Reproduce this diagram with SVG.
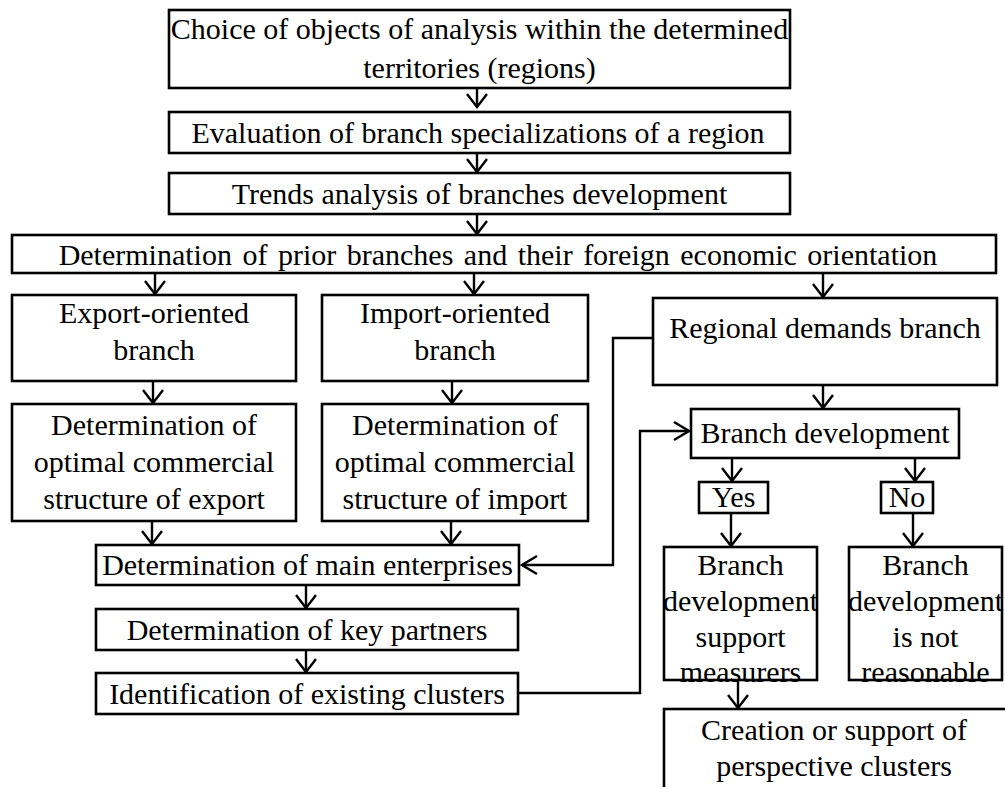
<svg xmlns="http://www.w3.org/2000/svg" width="1005" height="787" viewBox="0 0 1005 787">
  <defs>
    <style>
      .box { fill: #fff; stroke: #000; stroke-width: 2.6; }
      .lbl { font-family: "Liberation Serif", "Times New Roman", serif; font-size: 30px; fill: #000; text-anchor: middle; }
      .conn { fill: none; stroke: #000; stroke-width: 2.4; }
      .down { marker-end: url(#vee); }
      .side { marker-end: url(#chev); }
    </style>
    <!-- open head used on the vertical flow arrows -->
    <marker id="vee" viewBox="-15 -12 17 24" refX="0" refY="0" markerWidth="17" markerHeight="24" markerUnits="userSpaceOnUse" orient="auto">
      <path d="M-13,-10 L0,0 L-13,10" fill="none" stroke="#000" stroke-width="2.4"/>
    </marker>
    <!-- open chevron used on the side feedback lines -->
    <marker id="chev" viewBox="-17 -11 19 22" refX="0" refY="0" markerWidth="19" markerHeight="22" markerUnits="userSpaceOnUse" orient="auto">
      <path d="M-15,-9 L0,0 L-15,9" fill="none" stroke="#000" stroke-width="2.4"/>
    </marker>
  </defs>

  <rect width="1005" height="787" fill="#fff"/>

  <!-- connectors -->
  <g id="connectors">
    <path class="conn down" d="M477,88 V107"/>
    <path class="conn down" d="M477,153 V172"/>
    <path class="conn down" d="M477,214 V234"/>
    <path class="conn down" d="M155,273 V294"/>
    <path class="conn down" d="M474,273 V294"/>
    <path class="conn down" d="M823,273 V297"/>
    <path class="conn down" d="M153,381 V403"/>
    <path class="conn down" d="M452,381 V403"/>
    <path class="conn down" d="M823,385 V408"/>
    <path class="conn down" d="M152,521 V544"/>
    <path class="conn down" d="M451,521 V544"/>
    <path class="conn down" d="M732,458 V481"/>
    <path class="conn down" d="M915,458 V481"/>
    <path class="conn down" d="M731,513 V546"/>
    <path class="conn down" d="M913,513 V546"/>
    <path class="conn down" d="M306,585 V608"/>
    <path class="conn down" d="M306,650 V672"/>
    <path class="conn down" d="M738,680 V708"/>
    <path class="conn side" d="M653,338 H613 V565 H522"/>
    <path class="conn side" d="M518,693 H640 V431 H689"/>
  </g>

  <g id="choice">
    <rect class="box" x="169" y="10" width="621" height="78"/>
    <text class="lbl" x="479.5" y="39">Choice of objects of analysis within the determined</text>
    <text class="lbl" x="479.5" y="78">territories (regions)</text>
  </g>
  <g id="evaluation">
    <rect class="box" x="169" y="112" width="621" height="41"/>
    <text class="lbl" x="478" y="143" font-size="31">Evaluation of branch specializations of a region</text>
  </g>
  <g id="trends">
    <rect class="box" x="169" y="173" width="621" height="41"/>
    <text class="lbl" x="479.5" y="204">Trends analysis of branches development</text>
  </g>
  <g id="prior">
    <rect class="box" x="12" y="235" width="984" height="38"/>
    <text class="lbl" x="498" y="265" font-size="32" word-spacing="3">Determination of prior branches and their foreign economic orientation</text>
  </g>
  <g id="export">
    <rect class="box" x="12" y="295" width="284" height="86"/>
    <text class="lbl" x="154" y="323">Export-oriented</text>
    <text class="lbl" x="154" y="360">branch</text>
  </g>
  <g id="import">
    <rect class="box" x="322" y="295" width="266" height="86"/>
    <text class="lbl" x="455" y="323">Import-oriented</text>
    <text class="lbl" x="455" y="360">branch</text>
  </g>
  <g id="regional">
    <rect class="box" x="653" y="298" width="344" height="87"/>
    <text class="lbl" x="825" y="338">Regional demands branch</text>
  </g>
  <g id="export-structure">
    <rect class="box" x="12" y="404" width="284" height="117"/>
    <text class="lbl" x="154" y="435">Determination of</text>
    <text class="lbl" x="154" y="472">optimal commercial</text>
    <text class="lbl" x="154" y="509">structure of export</text>
  </g>
  <g id="import-structure">
    <rect class="box" x="322" y="404" width="266" height="117"/>
    <text class="lbl" x="455" y="435">Determination of</text>
    <text class="lbl" x="455" y="472">optimal commercial</text>
    <text class="lbl" x="455" y="509">structure of import</text>
  </g>
  <g id="branch-development">
    <rect class="box" x="691" y="409" width="268" height="49"/>
    <text class="lbl" x="825" y="443">Branch development</text>
  </g>
  <g id="yes">
    <rect class="box" x="699" y="482" width="69" height="31"/>
    <text class="lbl" x="733.5" y="507">Yes</text>
  </g>
  <g id="no">
    <rect class="box" x="881" y="482" width="52" height="31"/>
    <text class="lbl" x="907" y="507">No</text>
  </g>
  <g id="support">
    <rect class="box" x="664" y="547" width="153" height="133"/>
    <text class="lbl" x="740.5" y="575">Branch</text>
    <text class="lbl" x="740.5" y="611">development</text>
    <text class="lbl" x="740.5" y="647">support</text>
    <text class="lbl" x="740.5" y="682">measurers</text>
  </g>
  <g id="not-reasonable">
    <rect class="box" x="849" y="547" width="153" height="133"/>
    <text class="lbl" x="925.5" y="575">Branch</text>
    <text class="lbl" x="925.5" y="611">development</text>
    <text class="lbl" x="925.5" y="647">is not</text>
    <text class="lbl" x="925.5" y="682">reasonable</text>
  </g>
  <g id="main-enterprises">
    <rect class="box" x="96" y="545" width="423" height="40"/>
    <text class="lbl" x="307.5" y="575">Determination of main enterprises</text>
  </g>
  <g id="key-partners">
    <rect class="box" x="96" y="609" width="422" height="41"/>
    <text class="lbl" x="307" y="640">Determination of key partners</text>
  </g>
  <g id="clusters">
    <rect class="box" x="96" y="673" width="422" height="41"/>
    <text class="lbl" x="307" y="704">Identification of existing clusters</text>
  </g>
  <g id="perspective-clusters">
    <rect class="box" x="664" y="709" width="350" height="100"/>
    <text class="lbl" x="834" y="740">Creation or support of</text>
    <text class="lbl" x="834" y="776">perspective clusters</text>
  </g>
</svg>
